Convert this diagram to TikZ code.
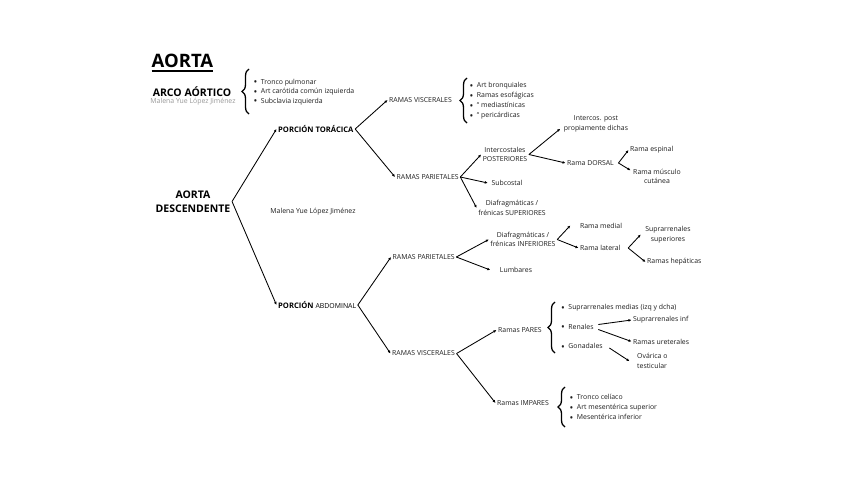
\documentclass[tikz,border=0pt]{standalone}
\usepackage{fontspec}
\setmainfont{Open Sans}
\usetikzlibrary{arrows.meta,decorations.pathreplacing,calc}
\definecolor{txt}{HTML}{1E1E1E}
\newcommand{\bul}{\raisebox{-1.4pt}{\fontsize{10}{10}\selectfont\textbullet}\hspace{3.5pt}}
\begin{document}
\begin{tikzpicture}[x=1pt,y=-1pt,
  sm/.style={font=\fontsize{6.9}{9.6}\selectfont, inner sep=1.5pt, text=txt},
  lf/.style={sm, anchor=west},
  two/.style={sm, align=center},
  hd/.style={font=\bfseries\fontsize{7.6}{9}\selectfont, inner sep=1.5pt, anchor=west},
  arr/.style={-{Latex[length=3pt,width=2.8pt]}, line width=0.85pt},
  br/.style={decorate, decoration={brace, amplitude=7pt}, line width=1.3pt},
  bl/.style={sm, anchor=west}]
\useasboundingbox[fill=white] (0,0) rectangle (848,477);

% Title
\node[anchor=base west, font=\bfseries\fontsize{18.5}{20}\selectfont, inner sep=0] (title) at (151.5,67.5) {AORTA};
\draw[line width=1.7pt] ($(title.base west)+(0,3.5)$) -- ($(title.base east)+(0,3.5)$);

% Arco aortico
\node[font=\bfseries\fontsize{10.5}{12}\selectfont, inner sep=1pt] (arco) at (192,91.5) {ARCO AÓRTICO};
\node[sm, text=black!40] (wm1) at (193,101.5) {Malena Yue López Jiménez};
\draw[br] (249,114) -- (249,69);
\node[bl] (a1) at (252,82.5) {\bul Tronco pulmonar};
\node[bl] (a2) at (252,92) {\bul Art carótida común izquierda};
\node[bl] (a3) at (252,101.5) {\bul Subclavia izquierda};

% Aorta descendente
\node[font=\bfseries\fontsize{10.5}{13.5}\selectfont, align=center, inner sep=1.5pt] (ad) at (193,201.5) {AORTA\\DESCENDENTE};
\node[hd] (pt) at (276.5,129) {PORCIÓN TORÁCICA};
\node[hd] (pa) at (276.5,305) {PORCIÓN \fontsize{6.9}{9}\mdseries ABDOMINAL};
\node[sm] (wm2) at (313,212) {Malena Yue López Jiménez};
\draw[arr] (ad.east) -- (pt.west);
\draw[arr] (ad.east) -- (pa.west);

% Toracica
\node[lf] (rv1) at (387.5,100) {RAMAS VISCERALES};
\node[lf] (rp1) at (395,177) {RAMAS PARIETALES};
\draw[arr] (pt.east) -- (rv1.west);
\draw[arr] (pt.east) -- (rp1.west);

\draw[br] (467,123) -- (467,78);
\node[bl] (v1) at (468,86) {\bul Art bronquiales};
\node[bl] (v2) at (468,96) {\bul Ramas esofágicas};
\node[bl] (v3) at (468,106) {\bul “ mediastínicas};
\node[bl] (v4) at (468,116) {\bul “ pericárdicas};

\node[two] (ic) at (505,154.5) {Intercostales\\POSTERIORES};
\node[sm] (sc) at (507,183) {Subcostal};
\node[two] (dfs) at (512,208) {Diafragmáticas /\\frénicas SUPERIORES};
\draw[arr] (rp1.east) -- (ic.west);
\draw[arr] (rp1.east) -- ($(sc.west)+(-2,0)$);
\draw[arr] (rp1.east) -- (dfs.west);

\node[two] (ip) at (596,124) {Intercos. post\\propiamente dichas};
\node[lf] (rd) at (565.5,163) {Rama DORSAL};
\draw[arr] (ic.east) -- ($(ip.south west)+(-2,-5)$);
\draw[arr] (ic.east) -- (rd.west);

\node[lf] (re) at (628.5,150) {Rama espinal};
\node[two] (rm) at (657,176.5) {Rama músculo\\cutánea};
\draw[arr] ($(rd.east)+(3,0)$) -- (re.west);
\draw[arr] ($(rd.east)+(3,0)$) -- ($(rm.north west)+(-1,3)$);

% Abdominal
\node[lf] (rp2) at (391,257) {RAMAS PARIETALES};
\node[lf] (rv2) at (390.5,353.5) {RAMAS VISCERALES};
\draw[arr] (pa.east) -- (rp2.west);
\draw[arr] (pa.east) -- (rv2.west);

\node[two] (dfi) at (523,239.5) {Diafragmáticas /\\frénicas INFERIORES};
\node[sm] (lu) at (516,270) {Lumbares};
\draw[arr] (rp2.east) -- (dfi.west);
\draw[arr] (rp2.east) -- ($(lu.west)+(-8,0)$);

\node[sm] (rme) at (601,225.5) {Rama medial};
\node[lf] (rl) at (578.5,248) {Rama lateral};
\draw[arr] (dfi.east) -- ($(rme.west)+(-8,0)$);
\draw[arr] (dfi.east) -- (rl.west);

\node[two] (ss) at (668,234.5) {Suprarrenales\\superiores};
\node[lf] (rh) at (645.5,262) {Ramas hepáticas};
\draw[arr] ($(rl.east)+(6,0)$) -- ($(ss.west)+(-3,0)$);
\draw[arr] ($(rl.east)+(6,0)$) -- (rh.west);

\node[lf] (rpa) at (496.5,330) {Ramas PARES};
\node[lf] (rim) at (495.5,403) {Ramas IMPARES};
\draw[arr] (rv2.east) -- (rpa.west);
\draw[arr] (rv2.east) -- (rim.west);

\draw[br] (555,353) -- (555,302);
\node[bl] (p1) at (559.5,308) {\bul Suprarrenales medias (izq y dcha)};
\node[bl] (p2) at (559.5,327.5) {\bul Renales};
\node[bl] (p3) at (559.5,347) {\bul Gonadales};

\node[lf] (si) at (631.5,320) {Suprarrenales inf};
\node[lf] (ru) at (631.5,341.5) {Ramas ureterales};
\node[sm, anchor=north west, align=left] (ov) at (635.5,352) {Ovárica o\\testicular};
\draw[arr] ($(p2.east)+(3,-3)$) -- (si.west);
\draw[arr] ($(p2.east)+(3,2)$) -- (ru.west);
\draw[arr] ($(p3.east)+(5,1)$) -- ($(ov.west)+(-6,0)$);

\draw[br] (565,427) -- (565,387);
\node[bl] (i1) at (568,398) {\bul Tronco celíaco};
\node[bl] (i2) at (568,408) {\bul Art mesentérica superior};
\node[bl] (i3) at (568,418) {\bul Mesentérica inferior};
\end{tikzpicture}
\end{document}
